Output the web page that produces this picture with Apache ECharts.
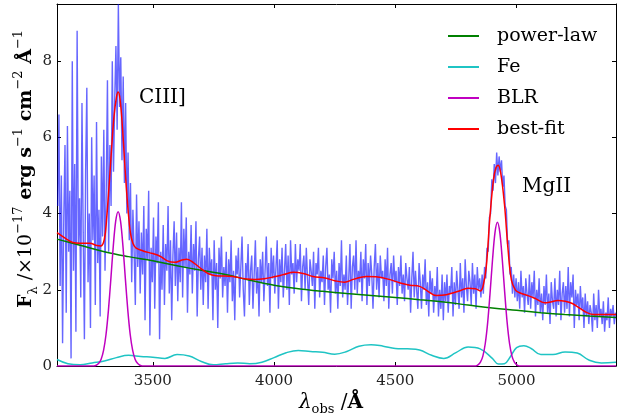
<!DOCTYPE html>
<html><head><meta charset="utf-8">
<script src="https://cdn.jsdelivr.net/npm/echarts@6/dist/echarts.min.js"></script>
<style>html,body{margin:0;padding:0;background:#fff}#c{width:628px;height:418px}</style>
</head><body><div id="c"></div>
<script>
// ---- data ----
const xTicks = [3500, 4000, 4500, 5000];
const yTicks = [0, 2, 4, 6, 8];
const xMin = 3105, xMax = 5410, yMin = 0, yMax = 9.5;

// observed spectrum: flux sampled every obsStep Å starting at obsStart
const obsStart = 3108, obsStep = 5;
const obsFlux = [
  4.2, 6.6, 2.1, 5.0, 0.6, 3.9, 5.8, 1.4, 6.3, 3.0,
  4.6, 0.2, 8.0, 2.5, 5.3, 0.9, 8.8, 3.2, 4.4, 1.8,
  6.9, 3.5, 0.7, 5.1, 7.3, 2.2, 4.0, 1.0, 6.0, 3.3,
  5.0, 1.6, 6.4, 2.7, 4.1, 1.3, 5.5, 3.4, 6.2, 2.5,
  4.6, 7.5, 3.0, 5.8, 4.2, 8.0, 5.1, 7.0, 8.4, 6.2,
  9.5, 6.8, 8.1, 5.4, 7.6, 4.8, 6.9, 4.0, 5.6, 3.3,
  4.8, 2.2, 4.1, 3.0, 1.6, 4.5, 2.6, 3.8, 1.9, 3.5,
  2.4, 4.2, 1.2, 3.6, 2.8, 4.6, 0.8, 3.1, 2.2, 3.9,
  1.5, 3.4, 2.7, 4.3, 0.7, 3.0, 2.0, 3.7, 1.6, 3.2,
  2.5, 4.2, 1.9, 3.3, 1.2, 2.9, 3.8, 2.1, 3.5, 1.7,
  3.1, 2.2, 4.3, 1.8, 3.6, 2.6, 3.9, 1.4, 3.0, 2.4,
  3.7, 1.9, 3.2, 2.5, 3.8, 1.3, 2.8, 3.4, 2.0, 3.1,
  1.6, 2.9, 2.2, 3.6, 1.5, 3.1, 2.4, 2.8, 1.2, 3.3,
  2.0, 2.7, 1.0, 3.1, 2.3, 3.4, 1.8, 2.6, 2.1, 3.0,
  1.4, 2.8, 2.2, 3.3, 1.7, 2.5, 1.2, 2.9, 2.4, 3.1,
  1.8, 2.6, 3.4, 2.0, 1.3, 2.7, 2.3, 3.2, 1.6, 2.5,
  2.9, 1.5, 2.4, 3.3, 1.9, 2.6, 1.3, 2.8, 2.2, 3.0,
  1.7, 2.5, 3.4, 2.1, 2.7, 1.4, 3.1, 2.3, 2.9, 1.9,
  2.6, 3.3, 1.5, 2.8, 2.2, 3.1, 1.8, 2.5, 3.2, 2.0,
  2.9, 1.6, 3.3, 2.4, 2.7, 1.9, 3.2, 2.2, 2.8, 2.5,
  3.2, 1.7, 2.6, 2.9, 2.0, 3.1, 2.3, 1.6, 2.8, 2.5,
  2.1, 3.0, 1.5, 2.7, 2.4, 3.1, 1.8, 2.5, 2.2, 2.9,
  1.6, 2.6, 3.1, 2.0, 2.4, 1.4, 2.8, 2.3, 3.0, 1.9,
  2.5, 1.5, 2.7, 2.1, 3.3, 1.8, 2.4, 2.0, 2.9, 1.6,
  2.3, 3.2, 1.5, 2.6, 2.9, 2.0, 3.3, 1.9, 2.5, 2.2,
  3.0, 1.7, 2.8, 2.3, 3.2, 1.6, 2.7, 2.1, 2.9, 2.4,
  1.5, 2.6, 3.2, 2.0, 2.7, 1.8, 2.9, 2.3, 2.5, 1.7,
  2.8, 2.1, 3.1, 1.5, 2.4, 2.7, 1.9, 2.9, 2.2, 2.5,
  1.6, 2.6, 2.1, 2.9, 1.9, 2.4, 1.7, 2.7, 2.3, 2.0,
  2.6, 1.4, 2.3, 3.0, 1.8, 2.5, 2.0, 1.5, 2.7, 2.2,
  1.5, 2.4, 2.0, 2.8, 1.6, 2.2, 1.3, 2.5, 1.9, 2.3,
  1.4, 2.1, 1.7, 2.6, 1.3, 2.0, 1.5, 2.4, 1.2, 2.2,
  1.7, 2.4, 1.4, 2.1, 1.9, 2.6, 1.3, 2.2, 1.6, 2.5,
  2.0, 1.5, 2.7, 1.8, 2.3, 1.4, 2.8, 2.1, 1.7, 2.5,
  2.2, 1.6, 2.7, 1.9, 2.4, 1.5, 2.6, 2.0, 2.3, 1.8,
  2.4, 1.9, 2.6, 2.3, 3.1, 3.0, 3.9, 4.0, 4.9, 4.6,
  5.3, 4.8, 5.6, 5.0, 5.5, 5.1, 5.4, 4.7, 5.0, 4.2,
  4.1, 3.2, 3.3, 2.4, 2.6, 1.9, 2.4, 1.8, 2.3, 1.7,
  2.2, 1.5, 2.5, 1.8, 2.1, 1.4, 2.3, 1.9, 1.6, 2.4,
  1.5, 2.2, 1.8, 2.5, 1.3, 2.0, 1.6, 2.3, 1.4, 1.9,
  1.2, 2.1, 1.6, 2.4, 1.4, 1.9, 1.1, 2.2, 1.7, 1.5,
  2.3, 1.3, 2.0, 1.6, 2.5, 1.2, 1.9, 2.2, 1.4, 2.1,
  1.5, 2.6, 1.3, 2.2, 1.8, 2.4, 1.0, 2.0, 1.6, 1.9,
  1.2, 2.1, 1.5, 1.8, 1.0, 1.9, 1.3, 1.7, 1.1, 1.6,
  1.4, 0.9, 1.9, 1.2, 1.6, 1.0, 2.0, 1.3, 1.5, 1.1,
  1.7, 0.9, 1.4, 1.2, 1.8, 1.0, 1.5, 1.3, 1.6, 1.1,
  1.4
];

// power-law continuum
const plLam  = [3105, 3200, 3300, 3400, 3500, 3600, 3700, 3800, 3900, 4000, 4100, 4200, 4300, 4400, 4500, 4600, 4700, 4800, 4900, 5000, 5100, 5200, 5300, 5410];
const plFlux = [3.33, 3.17, 3.00, 2.87, 2.76, 2.63, 2.51, 2.40, 2.25, 2.12, 2.03, 1.96, 1.90, 1.85, 1.80, 1.74, 1.68, 1.60, 1.52, 1.46, 1.40, 1.35, 1.31, 1.27];

// Fe template
const feLam  = [3105, 3150, 3200, 3250, 3300, 3350, 3400, 3450, 3500, 3550, 3600, 3650, 3700, 3750, 3800, 3850, 3900, 3950, 4000, 4050, 4100, 4150, 4200, 4250, 4300, 4350, 4400, 4450, 4500, 4550, 4600, 4650, 4700, 4750, 4800, 4850, 4900, 4925, 4950, 4975, 5000, 5030, 5060, 5100, 5150, 5200, 5250, 5300, 5350, 5410];
const feFlux = [0.17, 0.06, 0.03, 0.08, 0.13, 0.22, 0.28, 0.25, 0.23, 0.20, 0.30, 0.26, 0.12, 0.03, 0.06, 0.08, 0.06, 0.10, 0.22, 0.35, 0.41, 0.38, 0.36, 0.31, 0.38, 0.52, 0.56, 0.52, 0.46, 0.45, 0.42, 0.28, 0.20, 0.35, 0.50, 0.45, 0.20, 0.05, 0.06, 0.25, 0.48, 0.53, 0.46, 0.30, 0.30, 0.37, 0.34, 0.15, 0.08, 0.10];

// broad-line region emission (CIII] and MgII)
const blrLam  = [3105, 3257, 3267, 3277, 3287, 3297, 3307, 3317, 3327, 3337, 3347, 3357, 3367, 3377, 3387, 3397, 3407, 3417, 3427, 3437, 3447, 3457,
                 4831, 4841, 4851, 4861, 4871, 4881, 4891, 4901, 4911, 4921, 4931, 4941, 4951, 4961, 4971, 4981, 4991, 5001, 5011, 5410];
const blrFlux = [0, 0.00, 0.02, 0.07, 0.18, 0.41, 0.82, 1.46, 2.28, 3.14, 3.80, 4.05, 3.80, 3.14, 2.28, 1.46, 0.82, 0.41, 0.18, 0.07, 0.02, 0.00,
                 0.00, 0.03, 0.10, 0.26, 0.59, 1.15, 1.94, 2.80, 3.50, 3.77, 3.50, 2.80, 1.94, 1.15, 0.59, 0.26, 0.10, 0.03, 0.00, 0];

// best-fit model
const fitLam  = [3105, 3140, 3170, 3200, 3240, 3270, 3285, 3300, 3310, 3320, 3330, 3340, 3350, 3357, 3365, 3375, 3387, 3398, 3408, 3418, 3430, 3460, 3500, 3530, 3560, 3590, 3620, 3640, 3670, 3700, 3730, 3760, 3800, 3830, 3880, 3920, 3960, 4000, 4040, 4080, 4120, 4160, 4210, 4250, 4290, 4330, 4380, 4420, 4470, 4520, 4560, 4600, 4630, 4670, 4710, 4760, 4800, 4830, 4850, 4862, 4875, 4890, 4905, 4915, 4924, 4935, 4950, 4965, 4979, 4995, 5010, 5050, 5080, 5115, 5140, 5170, 5200, 5230, 5260, 5290, 5320, 5360, 5410];
const fitFlux = [3.50, 3.35, 3.24, 3.22, 3.22, 3.16, 3.15, 3.32, 3.90, 4.75, 5.70, 6.55, 7.05, 7.19, 7.00, 6.25, 5.05, 4.10, 3.48, 3.22, 3.10, 3.02, 2.95, 2.88, 2.76, 2.72, 2.78, 2.80, 2.70, 2.55, 2.42, 2.37, 2.36, 2.35, 2.29, 2.27, 2.29, 2.34, 2.40, 2.46, 2.43, 2.35, 2.31, 2.24, 2.20, 2.28, 2.35, 2.34, 2.28, 2.18, 2.12, 2.09, 1.98, 1.85, 1.87, 1.96, 2.04, 2.03, 1.97, 2.10, 2.60, 3.90, 4.90, 5.20, 5.27, 5.05, 4.25, 3.05, 2.25, 2.00, 1.93, 1.84, 1.76, 1.66, 1.68, 1.72, 1.70, 1.64, 1.52, 1.40, 1.35, 1.35, 1.35];

const legendNames = ['power-law', 'Fe', 'BLR', 'best-fit'];

// ---- build ----
const pairs = (xs, ys) => xs.map((x, i) => [x, ys[i]]);
const obsData = obsFlux.map((v, i) => [obsStart + i * obsStep, v]);
const FF = 'DejaVu Serif';

const chart = echarts.init(document.getElementById('c'), null, {renderer: 'canvas'});
const axisCommon = {
  type: 'value', splitLine: {show: false},
  axisLine: {show: true, onZero: false, lineStyle: {color: '#000', width: 1}},
  axisTick: {show: true, inside: true, length: 4, lineStyle: {color: '#000', width: 1}},
  minorTick: {show: false}
};
const plain = v => String(v);
chart.setOption({
  animation: false,
  backgroundColor: '#fff',
  grid: {left: 57, right: 12, top: 4, bottom: 52, containLabel: false},
  xAxis: [
    Object.assign({}, axisCommon, {min: xMin, max: xMax, position: 'bottom',
      axisTick: Object.assign({}, axisCommon.axisTick, {customValues: xTicks}),
      axisLabel: {customValues: xTicks, formatter: plain, margin: 8, fontFamily: FF, fontSize: 15, color: '#222'}}),
    Object.assign({}, axisCommon, {min: xMin, max: xMax, position: 'top',
      axisTick: Object.assign({}, axisCommon.axisTick, {customValues: xTicks}),
      axisLabel: {show: false}})
  ],
  yAxis: [
    Object.assign({}, axisCommon, {min: yMin, max: yMax, position: 'left',
      axisTick: Object.assign({}, axisCommon.axisTick, {customValues: yTicks}),
      axisLabel: {customValues: yTicks, formatter: plain, margin: 5, fontFamily: FF, fontSize: 15, color: '#222'}}),
    Object.assign({}, axisCommon, {min: yMin, max: yMax, position: 'right',
      axisTick: Object.assign({}, axisCommon.axisTick, {customValues: yTicks}),
      axisLabel: {show: false}})
  ],
  legend: {
    orient: 'vertical', left: 443, top: 21, itemWidth: 31, itemHeight: 2, itemGap: 11, icon: 'rect',
    textStyle: {fontFamily: FF, fontSize: 19, color: '#000', lineHeight: 20, padding: [0, 0, 0, 13]},
    data: legendNames
  },
  series: [
    {type: 'line', data: obsData, showSymbol: false, symbol: 'none', lineStyle: {color: 'rgba(0,0,255,0.6)', width: 1.4}, itemStyle: {color: 'rgba(0,0,255,0.6)'}, z: 1},
    {name: 'power-law', type: 'line', data: pairs(plLam, plFlux), symbol: 'none', smooth: 0.4, lineStyle: {color: '#008000', width: 1.5}, itemStyle: {color: '#008000'}, z: 3},
    {name: 'Fe', type: 'line', data: pairs(feLam, feFlux), symbol: 'none', smooth: 0.4, lineStyle: {color: '#1fc4c4', width: 1.5}, itemStyle: {color: '#1fc4c4'}, z: 3},
    {name: 'BLR', type: 'line', data: pairs(blrLam, blrFlux), symbol: 'none', smooth: 0.3, lineStyle: {color: '#c000c0', width: 1.5}, itemStyle: {color: '#c000c0'}, z: 3},
    {name: 'best-fit', type: 'line', data: pairs(fitLam, fitFlux), symbol: 'none', smooth: 0.4, lineStyle: {color: '#ff0000', width: 1.5}, itemStyle: {color: '#ff0000'}, z: 4}
  ],
  graphic: [
    {type: 'text', left: 139, top: 88, style: {text: 'CIII]', font: '20px "DejaVu Serif"', fill: '#000'}},
    {type: 'text', left: 522, top: 177, style: {text: 'MgII', font: '20px "DejaVu Serif"', fill: '#000'}},
    {type: 'text', x: 331, y: 403, style: {
      text: '{i|λ}{s|obs}{n| /}{b|Å}', align: 'center', verticalAlign: 'middle', fill: '#000',
      rich: {
        i: {fontFamily: FF, fontSize: 20, fontStyle: 'italic', lineHeight: 26, verticalAlign: 'middle'},
        s: {fontFamily: FF, fontSize: 13, lineHeight: 13, verticalAlign: 'bottom'},
        n: {fontFamily: FF, fontSize: 20, lineHeight: 26, verticalAlign: 'middle'},
        b: {fontFamily: FF, fontSize: 20, fontWeight: 'bold', lineHeight: 26, verticalAlign: 'middle'}
      }}},
    {type: 'text', x: 26, y: 169, rotation: Math.PI / 2, style: {
      text: '{b|F}{s|λ}{n| /×10}{p|−17}{b| erg s}{p|−1}{b| cm}{p|−2}{b| Å}{p|−1}', align: 'center', verticalAlign: 'middle', fill: '#000',
      rich: {
        b: {fontFamily: FF, fontSize: 19, fontWeight: 'bold', lineHeight: 28, verticalAlign: 'middle'},
        n: {fontFamily: FF, fontSize: 19, lineHeight: 28, verticalAlign: 'middle'},
        s: {fontFamily: FF, fontSize: 13, lineHeight: 13, verticalAlign: 'bottom'},
        p: {fontFamily: FF, fontSize: 13, lineHeight: 13, verticalAlign: 'top'}
      }}}
  ]
});
</script></body></html>
